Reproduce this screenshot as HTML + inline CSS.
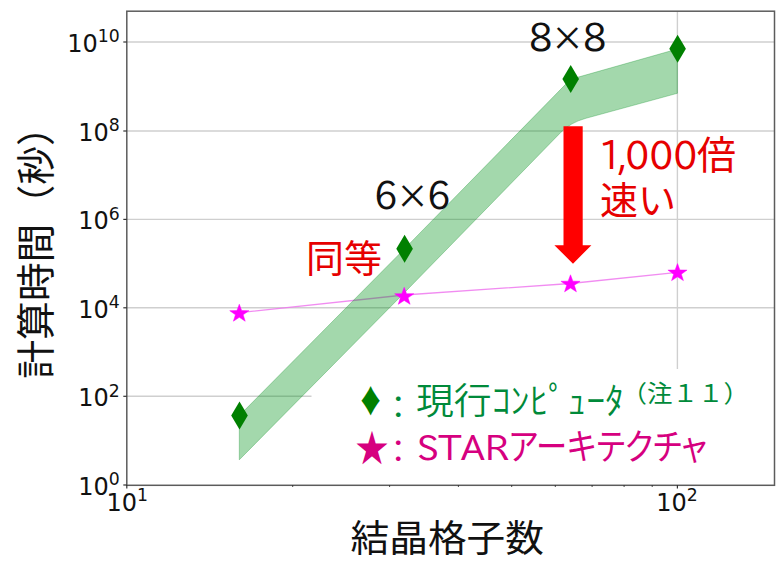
<!DOCTYPE html>
<html lang="ja">
<head>
<meta charset="utf-8">
<style>
html,body{margin:0;padding:0;background:#fff;}
body{width:781px;height:584px;overflow:hidden;position:relative;}
svg{position:absolute;left:0;top:0;display:block;}
.dj{font-family:"DejaVu Sans","Liberation Sans",sans-serif;fill:#111;}
.jp{font-family:"Liberation Sans","Noto Sans CJK JP",sans-serif;}
.jpn{font-family:"Noto Sans CJK JP",sans-serif;}
.ipa{font-family:"IPAPGothic","Noto Sans CJK JP",sans-serif;}
</style>
</head>
<body>
<svg width="781" height="584" viewBox="0 0 781 584">
  <rect x="0" y="0" width="781" height="584" fill="#fff"/>
  <!-- grid -->
  <g stroke="#cfcfcf" stroke-width="1.4" fill="none">
    <line x1="127" y1="42" x2="774" y2="42"/>
    <line x1="127" y1="131" x2="774" y2="131"/>
    <line x1="127" y1="219.4" x2="774" y2="219.4"/>
    <line x1="127" y1="307.8" x2="774" y2="307.8"/>
    <line x1="127" y1="396.3" x2="311.5" y2="396.3"/>
    <line x1="677.4" y1="11" x2="677.4" y2="369"/>
  </g>
  <!-- STAR line -->
  <polyline points="239.3,312.6 404.2,295.0 570.5,283.5 677.5,272.3" fill="none" stroke="rgb(238,120,238)" stroke-opacity="0.85" stroke-width="1.3"/>
  <!-- band -->
  <path d="M239.3,415.6 L404.6,248.7 L570.5,79.3 L677.4,49 L677.4,93.3 L585.9,118.3 Q570.5,122.5 560.7,132.5 L404.6,292.5 L239.3,459.8Z"
    fill="rgb(0,147,24)" fill-opacity="0.36" stroke="rgb(0,140,30)" stroke-opacity="0.3" stroke-width="1"/>
  <!-- diamonds -->
  <g fill="#008000">
    <path d="M239.5,401.6 L247.8,415.6 L239.5,429.6 L231.2,415.6Z"/>
    <path d="M404.6,234.8 L412.9,248.8 L404.6,262.8 L396.3,248.8Z"/>
    <path d="M570.7,65 L579,79 L570.7,93 L562.4,79Z"/>
    <path d="M677.6,34.7 L685.9,48.7 L677.6,62.7 L669.3,48.7Z"/>
  </g>
  <!-- stars -->
  <g fill="#f0f" stroke="#f0f" stroke-width="0.5" stroke-linejoin="round">
    <path d="M239.30,304.20 L241.66,310.56 L248.87,310.70 L243.13,314.76 L245.21,321.20 L239.30,317.36 L233.39,321.20 L235.47,314.76 L229.73,310.70 L236.94,310.56Z"/>
    <path d="M404.20,287.30 L406.56,293.66 L413.77,293.80 L408.03,297.86 L410.11,304.30 L404.20,300.46 L398.29,304.30 L400.37,297.86 L394.63,293.80 L401.84,293.66Z"/>
    <path d="M570.50,274.80 L572.86,281.16 L580.07,281.30 L574.33,285.36 L576.41,291.80 L570.50,287.96 L564.59,291.80 L566.67,285.36 L560.93,281.30 L568.14,281.16Z"/>
    <path d="M677.50,263.60 L679.86,269.96 L687.07,270.10 L681.33,274.16 L683.41,280.60 L677.50,276.76 L671.59,280.60 L673.67,274.16 L667.93,270.10 L675.14,269.96Z"/>
  </g>
  <!-- arrow -->
  <path d="M563.5,126.3 L582.7,126.3 L582.7,245.2 L591.4,245.2 L573,263.7 L554.4,245.2 L563.5,245.2Z" fill="#f00"/>
  <!-- spines -->
  <rect x="126.8" y="11.2" width="647.7" height="474.1" fill="none" stroke="#5c5c5c" stroke-width="1.5"/>
  <!-- ticks -->
  <g stroke="#333" stroke-width="1.2">
    <line x1="123.3" y1="42" x2="126.8" y2="42"/>
    <line x1="123.3" y1="131" x2="126.8" y2="131"/>
    <line x1="123.3" y1="219.4" x2="126.8" y2="219.4"/>
    <line x1="123.3" y1="307.8" x2="126.8" y2="307.8"/>
    <line x1="123.3" y1="396.3" x2="126.8" y2="396.3"/>
    <line x1="123.3" y1="485" x2="126.8" y2="485"/>
    <line x1="126.8" y1="485" x2="126.8" y2="488.5"/>
    <line x1="677.4" y1="485" x2="677.4" y2="488.5"/>
  </g>
  <g stroke="#333" stroke-width="0.9">
    <line x1="292.7" y1="485" x2="292.7" y2="487"/>
    <line x1="389.6" y1="485" x2="389.6" y2="487"/>
    <line x1="458.4" y1="485" x2="458.4" y2="487"/>
    <line x1="511.7" y1="485" x2="511.7" y2="487"/>
    <line x1="555.3" y1="485" x2="555.3" y2="487"/>
    <line x1="592.1" y1="485" x2="592.1" y2="487"/>
    <line x1="624.1" y1="485" x2="624.1" y2="487"/>
    <line x1="652.2" y1="485" x2="652.2" y2="487"/>
  </g>
  <!-- y tick labels -->
  <g class="dj" font-size="24">
    <text x="119.8" y="52" text-anchor="end">10<tspan font-size="17.3" dy="-9.8">10</tspan></text>
    <text x="119.8" y="141" text-anchor="end">10<tspan font-size="17.3" dy="-9.8">8</tspan></text>
    <text x="119.8" y="229.4" text-anchor="end">10<tspan font-size="17.3" dy="-9.8">6</tspan></text>
    <text x="119.8" y="317.8" text-anchor="end">10<tspan font-size="17.3" dy="-9.8">4</tspan></text>
    <text x="119.8" y="406.3" text-anchor="end">10<tspan font-size="17.3" dy="-9.8">2</tspan></text>
    <text x="119.8" y="495" text-anchor="end">10<tspan font-size="17.3" dy="-9.8">0</tspan></text>
    <text x="127.2" y="511" text-anchor="middle">10<tspan font-size="17.3" dy="-9.8">1</tspan></text>
    <text x="676.9" y="511" text-anchor="middle">10<tspan font-size="17.3" dy="-9.8">2</tspan></text>
  </g>
  <!-- axis labels -->
  <text class="jp" x="350.5" y="551.5" font-size="37" textLength="193.5" lengthAdjust="spacingAndGlyphs" fill="#111">結晶格子数</text>
  <text class="jp" transform="translate(50,243) rotate(-90)" font-size="38.8" text-anchor="middle" fill="#111">計算時間（秒）</text>
  <!-- annotations -->
  <g class="jpn" font-size="37.5" fill="#111">
    <text y="50.5" class="ipa" font-size="37.2"><tspan x="529">8</tspan><tspan x="553.5" font-size="34">×</tspan><tspan x="583">8</tspan></text>
    <text y="209" class="ipa" font-size="37.2"><tspan x="374">6</tspan><tspan x="398.5" font-size="34">×</tspan><tspan x="427">6</tspan></text>
  </g>
  <g class="jp" font-size="38" fill="#e60000">
    <text x="306" y="272">同等</text>
    <text y="169"><tspan class="ipa" font-size="37.5" x="598.8">1</tspan><tspan class="ipa" font-size="37.5" x="617.5">,</tspan><tspan class="ipa" font-size="37.5" x="625.5">0</tspan><tspan class="ipa" font-size="37.5" x="649.5">0</tspan><tspan class="ipa" font-size="37.5" x="673.5">0</tspan><tspan x="697" font-size="39">倍</tspan></text>
    <text x="600" y="214">速い</text>
  </g>
  <!-- legend -->
  <g class="jp">
    <text class="jpn" x="0" y="0" font-size="31.5" fill="#008000" transform="translate(358,413) scale(0.8,1)">♦</text>
    <text x="383" y="417.5" font-size="30.5" fill="#008a3a">：</text>
    <text x="416" y="413.5" font-size="36" font-weight="350" fill="#008a3a" textLength="208" lengthAdjust="spacingAndGlyphs">現行ｺﾝﾋﾟｭｰﾀ</text>
    <text x="621.4" y="402" font-size="24" fill="#008a3a" textLength="127.5" lengthAdjust="spacingAndGlyphs">（注１１）</text>
    <text class="jpn" x="0" y="0" font-size="37.5" fill="#d6007f" transform="translate(355.5,461.5) scale(0.88,1)">★</text>
    <text x="383" y="462" font-size="30.5" fill="#d6007f">：</text>
    <text class="ipa" x="417" y="460" font-size="34.5" fill="#d6007f" textLength="92" lengthAdjust="spacingAndGlyphs">STAR</text>
    <text x="509" y="460" font-size="36" fill="#d6007f" textLength="198" lengthAdjust="spacingAndGlyphs" style="font-feature-settings:'palt'">アーキテクチャ</text>
  </g>
</svg>
</body>
</html>
